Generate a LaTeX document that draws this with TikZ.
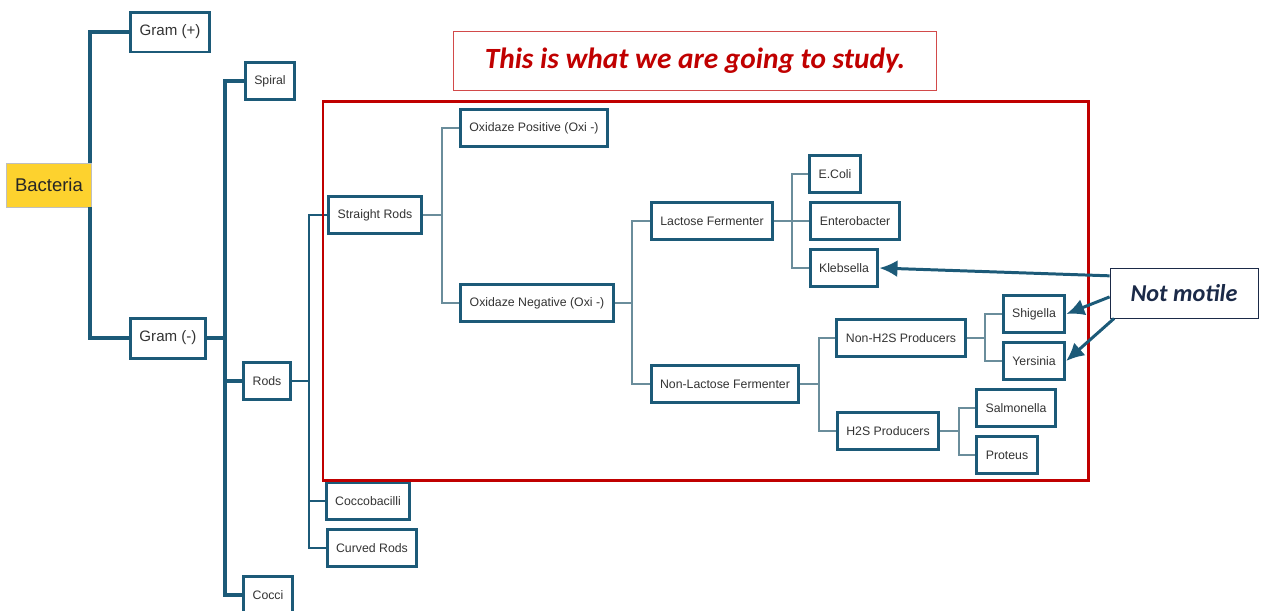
\documentclass[tikz,border=0pt]{standalone}
\usepackage{fontspec}
\setmainfont{Liberation Sans}
\newfontfamily\calibri{Carlito}
\usetikzlibrary{arrows.meta}
\definecolor{boxblue}{HTML}{1C5A78}
\definecolor{linkgray}{HTML}{6A8D9B}
\definecolor{txtgray}{HTML}{333333}
\definecolor{studyred}{HTML}{C00000}
\definecolor{notered}{HTML}{D24A4A}
\definecolor{notenavy}{HTML}{1B2A48}
\definecolor{bacyellow}{HTML}{FDD22E}
\tikzset{
  taxon/.style={draw=boxblue, line width=1.7pt, fill=white, text=txtgray,
    font=\fontsize{7}{8}\selectfont, minimum height=0.74cm, inner xsep=0.18cm},
  gram/.style={taxon, font=\fontsize{8.6}{10}\selectfont, minimum height=0.8cm},
  root/.style={draw=black!25, line width=0.4pt, fill=bacyellow, text=black!85,
    font=\fontsize{10.5}{12}\selectfont, minimum width=1.7cm, minimum height=0.88cm},
  rootlink/.style={draw=boxblue, line width=2.2pt},
  branchlink/.style={draw=boxblue, line width=1.8pt},
  rodlink/.style={draw=boxblue, line width=1.1pt},
  innerlink/.style={draw=linkgray, line width=0.8pt},
  notelink/.style={draw=boxblue, line width=1.7pt, -{Latex[length=0.36cm,width=0.34cm]}},
}

\begin{document}
\begin{tikzpicture}[x=0.02cm, y=-0.02cm]
  \useasboundingbox (0,0) rectangle (1264,610);

  % taxonomy boxes
  \draw
    (49, 185)   node[root](Bac){Bacteria}
    (170, 32)   node[gram](Gp){Gram (+)}
    (168, 338)  node[gram](Gm){Gram (-)}
    (270, 81)   node[taxon](Spiral){Spiral}
    (267, 381)  node[taxon](Rods){Rods}
    (268, 595)  node[taxon](Cocci){Cocci}
    (375, 215)  node[taxon](SRods){Straight Rods}
    (368, 501)  node[taxon](Cocco){Coccobacilli}
    (372, 548)  node[taxon](Curved){Curved Rods}
    (534, 128)  node[taxon](OxiPos){Oxidaze Positive (Oxi -)}
    (537, 303)  node[taxon](OxiNeg){Oxidaze Negative (Oxi -)}
    (712, 221)  node[taxon](Lac){Lactose Fermenter}
    (725, 384)  node[taxon](NonLac){Non-Lactose Fermenter}
    (835, 174)  node[taxon](EColi){E.Coli}
    (855, 221)  node[taxon](Entero){Enterobacter}
    (844, 268)  node[taxon](Kleb){Klebsella}
    (901, 338)  node[taxon](NonHS){Non-H2S Producers}
    (888, 431)  node[taxon](HS){H2S Producers}
    (1034, 314) node[taxon](Shig){Shigella}
    (1034, 361) node[taxon](Yers){Yersinia}
    (1016, 408) node[taxon](Salm){Salmonella}
    (1007, 455) node[taxon](Prot){Proteus}
  ;

  % forks
  \coordinate (gmfork) at (225, 338);
  \coordinate (rodsfork) at (309, 381);
  \coordinate (srfork) at (442, 215);
  \coordinate (oxfork) at (632, 303);
  \coordinate (lacfork) at (792, 221);
  \coordinate (nlfork) at (819, 384);
  \coordinate (nhsfork) at (985, 338);
  \coordinate (hsfork) at (959, 431);

  \draw[rootlink] (Gp.west) -| ([xshift=-0.04cm]Bac.north east);
  \draw[rootlink] (Gm.west) -| ([xshift=-0.04cm]Bac.south east);

  \draw[branchlink] (Gm.east) -- (gmfork);
  \draw[branchlink] (Spiral.west) -| (gmfork) |- (Cocci.west);
  \draw[branchlink] (Rods.west) -- (gmfork |- Rods.west);

  \draw[rodlink] (Rods.east) -- (rodsfork);
  \draw[rodlink] (SRods.west) -| (rodsfork) |- (Curved.west);
  \draw[rodlink] (Cocco.west) -- (rodsfork |- Cocco.west);

  \draw[innerlink] (SRods.east) -- (srfork);
  \draw[innerlink] (OxiPos.west) -| (srfork) |- (OxiNeg.west);
  \draw[innerlink] (OxiNeg.east) -- (oxfork);
  \draw[innerlink] (Lac.west) -| (oxfork) |- (NonLac.west);
  \draw[innerlink] (Lac.east) -- (Entero.west);
  \draw[innerlink] (EColi.west) -| (lacfork) |- (Kleb.west);
  \draw[innerlink] (NonLac.east) -- (nlfork);
  \draw[innerlink] (NonHS.west) -| (nlfork) |- (HS.west);
  \draw[innerlink] (NonHS.east) -- (nhsfork);
  \draw[innerlink] (Shig.west) -| (nhsfork) |- (Yers.west);
  \draw[innerlink] (HS.east) -- (hsfork);
  \draw[innerlink] (Salm.west) -| (hsfork) |- (Prot.west);

  % study frame
  \draw[studyred, line width=1.7pt] (323, 101) rectangle (1088, 480);
  \node[draw=notered, line width=0.6pt, minimum width=9.68cm, minimum height=1.18cm,
    text=studyred, font=\calibri\bfseries\itshape\fontsize{16.7}{19}\selectfont]
    (Study) at (695, 61) {This is what we are going to study.};

  % note
  \node[draw=notenavy, line width=0.5pt, fill=white, minimum width=2.96cm, minimum height=1cm,
    text=notenavy, font=\calibri\bfseries\itshape\fontsize{13.8}{16}\selectfont]
    (Note) at (1184, 293) {Not motile};
  \draw[notelink] (Note.167) -- (Kleb.east);
  \draw[notelink] (Note.183) -- (Shig.east);
  \draw[notelink] (Note.200) -- (Yers.east);
\end{tikzpicture}
\end{document}
